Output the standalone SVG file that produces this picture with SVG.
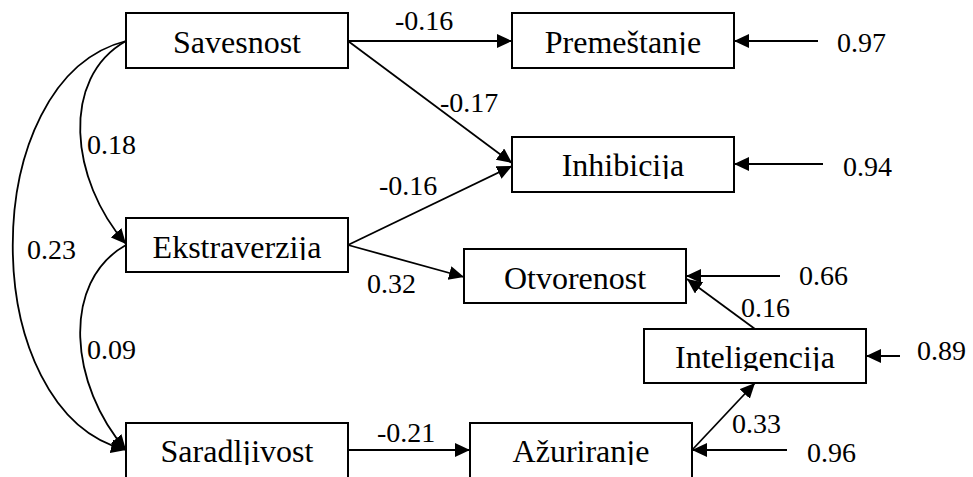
<svg xmlns="http://www.w3.org/2000/svg" width="973" height="477" viewBox="0 0 973 477">
  <style>
    .box { fill: #ffffff; stroke: #000000; stroke-width: 2; }
    .lbl { font-family: "Liberation Serif", "Times New Roman", serif; font-size: 32px; fill: #000000; text-anchor: middle; }
    .num { font-family: "Liberation Serif", "Times New Roman", serif; font-size: 28px; fill: #000000; }
    .edge { fill: none; stroke: #000000; stroke-width: 1.8; marker-end: url(#arrow); }
  </style>
  <defs>
    <marker id="arrow" markerUnits="userSpaceOnUse" markerWidth="16" markerHeight="15" refX="15" refY="7" orient="auto">
      <path d="M0,0 L15,7 L0,14 z" fill="#000000"/>
    </marker>
    <clipPath id="c1"><rect x="126" y="13" width="222" height="42"/></clipPath>
    <clipPath id="c2"><rect x="512" y="13" width="222" height="42"/></clipPath>
    <clipPath id="c3"><rect x="512" y="137" width="222" height="42"/></clipPath>
    <clipPath id="c4"><rect x="126" y="218" width="222" height="42"/></clipPath>
    <clipPath id="c5"><rect x="464" y="249" width="222" height="42"/></clipPath>
    <clipPath id="c6"><rect x="644" y="329" width="222" height="42"/></clipPath>
    <clipPath id="c7"><rect x="126" y="423" width="222" height="42"/></clipPath>
    <clipPath id="c8"><rect x="470" y="423" width="222" height="42"/></clipPath>
  </defs>
  <rect width="973" height="477" fill="#ffffff"/>

  <g id="connectors">
    <!-- covariances -->
    <path class="edge" d="M126,41 C60,78 70,180 126,244"/>
    <path class="edge" d="M126,245 C60,282 70,386 126,450"/>
    <path class="edge" d="M126,41 C-25,79 -25,412 126,450"/>
    <!-- paths -->
    <line class="edge" x1="348" y1="41" x2="512" y2="41"/>
    <line class="edge" x1="348" y1="41" x2="512" y2="163"/>
    <line class="edge" x1="348" y1="245" x2="512" y2="166"/>
    <line class="edge" x1="348" y1="245" x2="464" y2="277"/>
    <line class="edge" x1="348" y1="450" x2="470" y2="450"/>
    <line class="edge" x1="755" y1="329" x2="687" y2="279"/>
    <line class="edge" x1="693" y1="449" x2="755" y2="383"/>
    <!-- residuals -->
    <line class="edge" x1="818" y1="41" x2="734" y2="41"/>
    <line class="edge" x1="823" y1="164" x2="734" y2="164"/>
    <line class="edge" x1="780" y1="276" x2="686" y2="276"/>
    <line class="edge" x1="900" y1="356" x2="866" y2="356"/>
    <line class="edge" x1="787" y1="450" x2="692" y2="450"/>
    <!-- labels -->
    <text class="num" x="395" y="30">-0.16</text>
    <text class="num" x="440" y="112">-0.17</text>
    <text class="num" x="379" y="195">-0.16</text>
    <text class="num" x="367" y="293">0.32</text>
    <text class="num" x="377" y="442">-0.21</text>
    <text class="num" x="87" y="154">0.18</text>
    <text class="num" x="27" y="259">0.23</text>
    <text class="num" x="87" y="359">0.09</text>
    <text class="num" x="741" y="317">0.16</text>
    <text class="num" x="732" y="433">0.33</text>
    <text class="num" x="837" y="52">0.97</text>
    <text class="num" x="843" y="176">0.94</text>
    <text class="num" x="799" y="285">0.66</text>
    <text class="num" x="917" y="360">0.89</text>
    <text class="num" x="807" y="462">0.96</text>
  </g>

  <g id="savesnost">
    <rect class="box" x="126" y="13" width="222" height="55"/>
    <text class="lbl" x="237" y="53" clip-path="url(#c1)">Savesnost</text>
  </g>
  <g id="premestanje">
    <rect class="box" x="512" y="13" width="222" height="55"/>
    <text class="lbl" x="623" y="53" clip-path="url(#c2)">Premeštanje</text>
  </g>
  <g id="inhibicija">
    <rect class="box" x="512" y="137" width="222" height="55"/>
    <text class="lbl" x="623" y="176" clip-path="url(#c3)">Inhibicija</text>
  </g>
  <g id="ekstraverzija">
    <rect class="box" x="126" y="218" width="222" height="54"/>
    <text class="lbl" x="237" y="258" clip-path="url(#c4)">Ekstraverzija</text>
  </g>
  <g id="otvorenost">
    <rect class="box" x="464" y="249" width="222" height="54"/>
    <text class="lbl" x="575" y="289" clip-path="url(#c5)">Otvorenost</text>
  </g>
  <g id="inteligencija">
    <rect class="box" x="644" y="329" width="222" height="54"/>
    <text class="lbl" x="755" y="368" clip-path="url(#c6)">Inteligencija</text>
  </g>
  <g id="saradljivost">
    <rect class="box" x="126" y="423" width="222" height="56"/>
    <text class="lbl" x="237" y="462" clip-path="url(#c7)">Saradljivost</text>
  </g>
  <g id="azuriranje">
    <rect class="box" x="470" y="423" width="222" height="56"/>
    <text class="lbl" x="581" y="462" clip-path="url(#c8)">Ažuriranje</text>
  </g>
</svg>
